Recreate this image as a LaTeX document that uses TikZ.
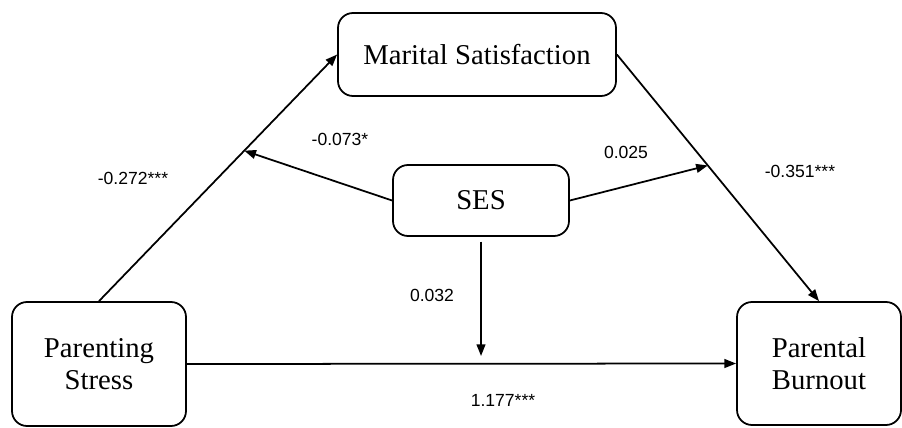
\documentclass[tikz,border=0pt]{standalone}
\usepackage{fontspec}
\setmainfont{Liberation Serif}
\setsansfont{Liberation Sans}
\usepackage{tikz}
\usetikzlibrary{arrows.meta,positioning,calc}

\begin{document}
\begin{tikzpicture}[
  x=0.03cm,y=-0.03cm,
  box/.style={rectangle,rounded corners=0.45cm,draw=black,line width=1.5pt,
              align=center,inner sep=0pt,
              font=\fontsize{24.5}{27.5}\selectfont},
  arrow/.style={-{Triangle[length=10pt,width=7.5pt]},line width=1.5pt,color=black},
  lbl/.style={font=\sffamily\fontsize{15}{17}\selectfont,inner sep=0pt}
]
\useasboundingbox (0,0) rectangle (902,428);
% Variables
\node[box,minimum width=8.34cm,minimum height=2.49cm] (ms) at (477,54.5) {Marital Satisfaction};
\node[box,minimum width=5.28cm,minimum height=2.13cm] (ses) at (481,200.5) {SES};
\node[box,minimum width=5.22cm,minimum height=3.72cm] (ps) at (99,364) {Parenting\\Stress};
\node[box,minimum width=4.92cm,minimum height=3.69cm] (pb) at (819,363.5) {Parental\\Burnout};
% Paths
\draw[arrow] (ps.north) -- (ms.west);
\draw[arrow] (ms.east) -- (pb.north);
\draw[arrow] (ps.east) -- (pb.west);
% Moderation arrows from SES
\coordinate (a1) at ($(ps.north)!0.61!(ms.west)$);
\coordinate (a2) at ($(ms.east)!0.45!(pb.north)$);
\coordinate (a3) at ($(ses.south |- ps.east)+(0,-8)$);
\draw[arrow] (ses.west) -- (a1);
\draw[arrow] (ses.east) -- (a2);
\draw[arrow] ([yshift=-4pt]ses.south) -- (a3);
% Coefficients
\node[lbl] (b1) at (133,178) {-0.272***};
\node[lbl] (b2) at (340,139) {-0.073*};
\node[lbl] (b3) at (626,152) {0.025};
\node[lbl] (b4) at (800,171) {-0.351***};
\node[lbl] (b5) at (432,295) {0.032};
\node[lbl] (b6) at (503,400) {1.177***};
\end{tikzpicture}
\end{document}
